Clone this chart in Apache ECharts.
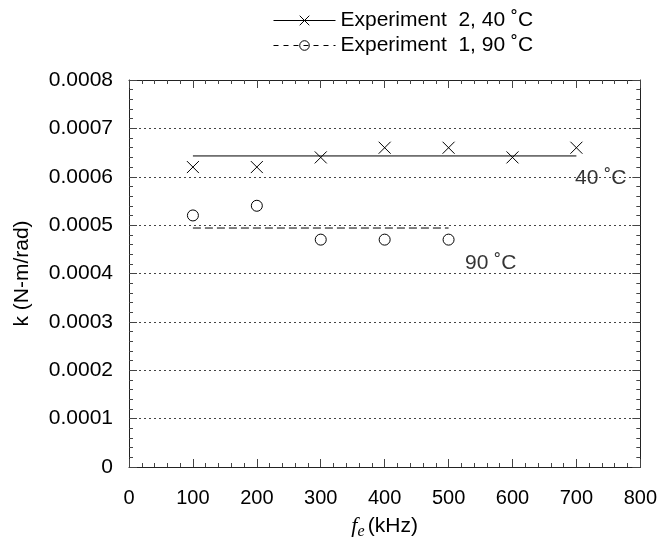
<!DOCTYPE html>
<html>
<head>
<meta charset="utf-8">
<script src="https://cdn.jsdelivr.net/npm/echarts@6/dist/echarts.min.js"></script>
<style>
  html, body { margin: 0; padding: 0; background: #fff; }
  #chart { width: 660px; height: 547px; }
</style>
</head>
<body>
<div id="chart"></div>
<script>
// data
const freq40 = [100, 200, 300, 400, 500, 600, 700];
const k40 = [0.00062, 0.00062, 0.00064, 0.00066, 0.00066, 0.00064, 0.00066];
const freq90 = [100, 200, 300, 400, 500];
const k90 = [0.00052, 0.00054, 0.00047, 0.00047, 0.00047];
// fitted (mean) lines
const fit40X = [100, 700];
const fit40Y = [0.000643, 0.000643];
const fit90X = [100, 500];
const fit90Y = [0.000494, 0.000494];
// text notes on the plot
const noteText = ['40 ˚C', '90 ˚C'];
const noteX = [738, 566];
const noteY = [0.000598, 0.000421];

const name40 = 'Experiment  2, 40 ˚C';
const name90 = 'Experiment  1, 90 ˚C';
const FONT = '"Liberation Sans", Arial, sans-serif';
const crossPath = 'path://M0,0L10,10M10,0L0,10';

let chart = echarts.init(document.getElementById('chart'));

const pairs = (xs, ys) => xs.map((x, i) => [x, ys[i]]);

// fresh tick settings for every axis, ticks drawn inside the frame
function ticks() {
  return {
    axisLine: { show: true, onZero: false, lineStyle: { color: '#222', width: 1 } },
    axisTick: { show: true, inside: true, length: 8, lineStyle: { color: '#444' } },
    minorTick: { show: true, splitNumber: 5, length: 4, lineStyle: { color: '#444' } },
    splitLine: { show: false }
  };
}

let option = {
  backgroundColor: '#fff',
  animation: false,
  textStyle: { fontFamily: FONT, color: '#000' },
  grid: { left: 129, right: 19, top: 80, bottom: 80 },
  legend: {
    orient: 'vertical',
    left: 268,
    top: 5,
    itemWidth: 62,
    itemHeight: 12,
    itemGap: 4,
    textStyle: { fontSize: 21, color: '#000', fontFamily: FONT },
    data: [
      {
        name: name40,
        itemStyle: { color: 'none', borderColor: '#000', borderWidth: 1 },
        lineStyle: { opacity: 1, width: 1, type: 'solid', color: '#000' }
      },
      {
        name: name90,
        itemStyle: { color: 'none', borderColor: '#000', borderWidth: 1 },
        lineStyle: { opacity: 1, width: 1, type: [5, 5], color: '#000' }
      }
    ]
  },
  xAxis: [
    Object.assign(ticks(), {
      type: 'value',
      position: 'bottom',
      min: 0,
      max: 800,
      interval: 100,
      axisLabel: { fontSize: 20, color: '#000', margin: 21, fontFamily: FONT },
      name: '{f|f}{e|e} {t|(kHz)}',
      nameLocation: 'middle',
      nameGap: 45,
      nameTextStyle: {
        rich: {
          f: { fontFamily: '"Liberation Serif", serif', fontStyle: 'italic', fontSize: 22, color: '#000' },
          e: { fontFamily: '"Liberation Serif", serif', fontStyle: 'italic', fontSize: 16, color: '#000', verticalAlign: 'bottom', padding: [12, 0, 0, 0] },
          t: { fontFamily: FONT, fontSize: 21, color: '#000' }
        }
      }
    }),
    Object.assign(ticks(), {
      type: 'value',
      position: 'top',
      min: 0,
      max: 800,
      interval: 100,
      axisLabel: { show: false }
    })
  ],
  yAxis: [
    Object.assign(ticks(), {
      type: 'value',
      position: 'left',
      min: 0,
      max: 0.0008,
      interval: 0.0001,
      splitLine: { show: true, lineStyle: { color: '#444', type: [2, 3], width: 1 } },
      axisLabel: {
        fontSize: 21, color: '#000', margin: 16, fontFamily: FONT,
        formatter: v => v === 0 ? '0' : v.toFixed(4)
      },
      name: 'k (N-m/rad)',
      nameLocation: 'middle',
      nameGap: 96,
      nameTextStyle: { fontSize: 21, color: '#000', fontFamily: FONT }
    }),
    Object.assign(ticks(), {
      type: 'value',
      position: 'right',
      min: 0,
      max: 0.0008,
      interval: 0.0001,
      axisLabel: { show: false }
    })
  ],
  series: [
    {
      name: name40,
      type: 'line',
      data: pairs(freq40, k40),
      symbol: crossPath,
      symbolSize: 12,
      lineStyle: { opacity: 0 },
      itemStyle: { color: 'none', borderColor: '#000', borderWidth: 1 },
      silent: true,
      z: 5
    },
    {
      name: name90,
      type: 'line',
      data: pairs(freq90, k90),
      symbol: 'circle',
      symbolSize: 11,
      lineStyle: { opacity: 0 },
      itemStyle: { color: 'none', borderColor: '#000', borderWidth: 1 },
      silent: true,
      z: 5
    },
    {
      name: 'fit40',
      type: 'line',
      data: pairs(fit40X, fit40Y),
      symbol: 'none',
      lineStyle: { color: '#000', width: 1, type: 'solid' },
      silent: true
    },
    {
      name: 'fit90',
      type: 'line',
      data: pairs(fit90X, fit90Y),
      symbol: 'none',
      lineStyle: { color: '#000', width: 1, type: [8, 4] },
      silent: true
    },
    {
      name: 'notes',
      type: 'scatter',
      data: noteText.map((t, i) => ({ value: [noteX[i], noteY[i]], label: { formatter: t } })),
      symbolSize: 0,
      label: { show: true, position: 'inside', fontSize: 21, color: '#000', fontFamily: FONT },
      silent: true
    }
  ]
};

chart.setOption(option);
</script>
</body>
</html>
